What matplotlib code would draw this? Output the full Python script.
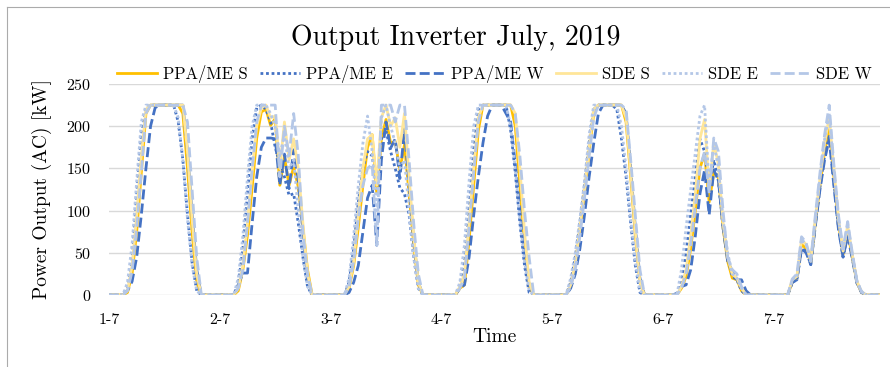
import matplotlib
matplotlib.use("Agg")
import matplotlib.pyplot as plt
from matplotlib.lines import Line2D
import numpy as np

plt.rcParams["font.family"] = "cmr10"
plt.rcParams["mathtext.fontset"] = "cm"
plt.rcParams["axes.formatter.use_mathtext"] = True

# hourly inverter output [kW], 1-7 00:00 .. 7-7 23:00 (one row per day)
PPA_S = [
    0, 0, 0, 0, 3, 25, 75, 145, 215, 225, 225, 225, 225, 225, 225, 225, 215, 150, 75, 15, 0, 0, 0, 0,
    0, 0, 0, 0, 5, 30, 71, 127, 186, 217, 220, 201, 209, 130, 164, 130, 152, 128, 80, 30, 0, 0, 0, 0,
    0, 0, 0, 0, 8, 35, 80, 130, 175, 190, 120, 185, 208, 180, 182, 148, 178, 120, 60, 12, 0, 0, 0, 0,
    0, 0, 0, 0, 8, 12, 65, 130, 195, 225, 225, 225, 225, 225, 225, 225, 200, 130, 60, 10, 0, 0, 0, 0,
    0, 0, 0, 0, 10, 35, 75, 120, 170, 215, 225, 225, 225, 225, 225, 225, 205, 140, 70, 15, 0, 0, 0, 0,
    0, 0, 0, 0, 8, 22, 55, 100, 150, 168, 110, 145, 140, 80, 40, 20, 18, 5, 0, 0, 0, 0, 0, 0,
    0, 0, 0, 0, 15, 20, 60, 55, 38, 85, 130, 170, 197, 140, 85, 48, 75, 45, 15, 3, 0, 0, 0, 0,
]
PPA_E = [
    0, 0, 0, 0, 8, 40, 120, 190, 222, 225, 225, 225, 225, 225, 225, 205, 160, 95, 38, 5, 0, 0, 0, 0,
    0, 0, 0, 0, 12, 55, 120, 185, 222, 225, 220, 205, 175, 155, 140, 118, 120, 85, 45, 10, 0, 0, 0, 0,
    0, 0, 0, 0, 15, 55, 110, 150, 170, 165, 130, 185, 195, 170, 150, 127, 120, 95, 45, 8, 0, 0, 0, 0,
    0, 0, 0, 0, 10, 40, 105, 175, 220, 225, 225, 225, 225, 225, 225, 195, 145, 85, 35, 3, 0, 0, 0, 0,
    0, 0, 0, 0, 15, 45, 85, 130, 180, 220, 225, 225, 225, 225, 220, 185, 140, 85, 35, 3, 0, 0, 0, 0,
    0, 0, 0, 0, 15, 50, 95, 140, 185, 170, 130, 160, 135, 80, 45, 22, 18, 5, 0, 0, 0, 0, 0, 0,
    0, 0, 0, 0, 15, 18, 55, 52, 36, 85, 128, 165, 188, 135, 80, 45, 72, 45, 15, 3, 0, 0, 0, 0,
]
PPA_W = [
    0, 0, 0, 0, 5, 16, 45, 95, 150, 200, 222, 225, 225, 225, 225, 225, 225, 170, 95, 30, 0, 0, 0, 0,
    0, 0, 0, 0, 12, 26, 26, 85, 140, 175, 186, 186, 185, 130, 167, 126, 172, 135, 75, 20, 0, 0, 0, 0,
    0, 0, 0, 0, 3, 15, 35, 75, 115, 130, 59, 160, 205, 174, 185, 138, 197, 130, 65, 15, 0, 0, 0, 0,
    0, 0, 0, 0, 8, 12, 45, 95, 140, 180, 212, 225, 225, 225, 215, 205, 155, 100, 50, 12, 0, 0, 0, 0,
    0, 0, 0, 0, 8, 25, 55, 95, 140, 180, 215, 225, 225, 225, 225, 225, 215, 150, 80, 20, 0, 0, 0, 0,
    0, 0, 0, 2, 10, 12, 30, 70, 120, 148, 95, 148, 136, 80, 40, 28, 18, 18, 5, 0, 0, 0, 0, 0,
    0, 0, 0, 0, 15, 18, 55, 50, 36, 82, 125, 160, 185, 130, 78, 45, 70, 43, 14, 3, 0, 0, 0, 0,
]
SDE_S = [
    0, 0, 0, 0, 5, 35, 95, 165, 220, 225, 225, 225, 225, 225, 225, 225, 225, 170, 90, 25, 0, 0, 0, 0,
    0, 0, 0, 0, 8, 35, 85, 145, 200, 222, 225, 210, 212, 150, 205, 160, 185, 150, 85, 25, 0, 0, 0, 0,
    0, 0, 0, 0, 10, 40, 95, 150, 185, 190, 130, 210, 225, 200, 210, 175, 215, 140, 70, 15, 0, 0, 0, 0,
    0, 0, 0, 0, 10, 25, 85, 150, 210, 225, 225, 225, 225, 225, 225, 225, 215, 150, 75, 15, 0, 0, 0, 0,
    0, 0, 0, 0, 12, 38, 80, 125, 175, 220, 225, 225, 225, 225, 225, 225, 210, 145, 75, 15, 0, 0, 0, 0,
    0, 0, 0, 0, 10, 30, 70, 120, 185, 208, 125, 180, 155, 85, 45, 25, 20, 8, 0, 0, 0, 0, 0, 0,
    0, 0, 0, 0, 18, 22, 65, 60, 40, 90, 138, 180, 210, 150, 90, 52, 82, 48, 16, 4, 0, 0, 0, 0,
]
SDE_E = [
    0, 0, 0, 0, 15, 60, 135, 205, 225, 225, 225, 225, 225, 225, 225, 210, 160, 90, 35, 5, 0, 0, 0, 0,
    0, 0, 0, 0, 20, 70, 140, 200, 225, 225, 225, 215, 200, 165, 190, 150, 160, 100, 45, 10, 0, 0, 0, 0,
    0, 0, 0, 0, 20, 70, 130, 180, 212, 170, 100, 210, 225, 200, 180, 150, 160, 100, 45, 8, 0, 0, 0, 0,
    0, 0, 0, 0, 15, 60, 135, 200, 225, 225, 225, 225, 225, 225, 225, 200, 150, 90, 40, 5, 0, 0, 0, 0,
    0, 0, 0, 0, 20, 50, 90, 135, 190, 225, 225, 225, 225, 225, 225, 200, 150, 90, 40, 5, 0, 0, 0, 0,
    0, 0, 0, 0, 30, 80, 125, 168, 212, 225, 128, 180, 150, 90, 50, 25, 20, 8, 0, 0, 0, 0, 0, 0,
    0, 0, 0, 0, 18, 22, 66, 60, 40, 90, 140, 185, 215, 150, 90, 52, 84, 48, 16, 4, 0, 0, 0, 0,
]
SDE_W = [
    0, 0, 0, 0, 5, 28, 80, 145, 215, 225, 225, 225, 225, 225, 225, 225, 225, 205, 125, 45, 0, 0, 0, 0,
    0, 0, 0, 0, 8, 30, 85, 150, 205, 225, 225, 225, 225, 140, 200, 165, 215, 165, 75, 25, 0, 0, 0, 0,
    0, 0, 0, 0, 10, 40, 90, 130, 150, 155, 59, 225, 225, 225, 205, 225, 225, 160, 85, 25, 0, 0, 0, 0,
    0, 0, 0, 0, 8, 20, 80, 145, 205, 225, 225, 225, 225, 225, 225, 225, 215, 165, 100, 45, 0, 0, 0, 0,
    0, 0, 0, 0, 10, 30, 70, 115, 165, 210, 225, 225, 225, 225, 225, 225, 220, 160, 95, 30, 0, 0, 0, 0,
    0, 0, 0, 0, 8, 25, 60, 105, 150, 170, 120, 186, 170, 100, 45, 30, 25, 10, 0, 0, 0, 0, 0, 0,
    0, 0, 0, 0, 19, 25, 69, 62, 41, 95, 145, 190, 225, 155, 95, 55, 87, 50, 17, 4, 0, 0, 0, 0,
]

DAY_LABELS = ["1-7", "2-7", "3-7", "4-7", "5-7", "6-7", "7-7"]
Y_TICKS = [0, 50, 100, 150, 200, 250]

# ── styles ───────────────────────────────────────────────────────────────
C_GOLD   = "#FFC000"
C_BLUE   = "#4472C4"
C_LGOLD  = "#FFE699"
C_LBLUE  = "#B4C7E7"
C_GRID   = "#D9D9D9"
LW = 2.0
DOT  = (0, (1, 1))
DASH = (0, (3.6, 1.5))

series = [
    ("PPA/ME S", PPA_S, C_GOLD,  "-"),
    ("PPA/ME E", PPA_E, C_BLUE,  DOT),
    ("PPA/ME W", PPA_W, C_BLUE,  DASH),
    ("SDE S",    SDE_S, C_LGOLD, "-"),
    ("SDE E",    SDE_E, C_LBLUE, DOT),
    ("SDE W",    SDE_W, C_LBLUE, DASH),
]

W, H = 890, 367
fig = plt.figure(figsize=(W / 100, H / 100), dpi=100)
ax = fig.add_axes([109 / W, 1 - 295 / H, (880 - 109) / W, (295 - 84) / H])

hours = np.arange(len(PPA_S))
for name, vals, col, ls in series:
    ax.plot(hours, vals, color=col, linestyle=ls, linewidth=LW, label=name,
            solid_joinstyle="round", dash_capstyle="butt")

ax.set_xlim(0, len(PPA_S) - 1)
ax.set_ylim(0, 250)
ax.set_yticks(Y_TICKS)
ax.set_xticks(np.arange(len(DAY_LABELS)) * 24)
ax.set_xticklabels(DAY_LABELS)
ax.tick_params(length=0, labelsize=11.5)
ax.tick_params(axis="y", pad=13)
ax.tick_params(axis="x", pad=13)
ax.grid(axis="y", color=C_GRID, linewidth=1)
ax.set_axisbelow(True)
for s in ax.spines.values():
    s.set_visible(False)

ax.set_xlabel("Time", fontsize=14, labelpad=1)
ax.set_ylabel("Power Output (AC) [kW]", fontsize=14, labelpad=10)

fig.text(455.5 / W, 1 - 38 / H, "Output Inverter July, 2019",
         fontsize=20, ha="center", va="center")

fig.legend(loc="center", bbox_to_anchor=(494.5 / W, 1 - 74 / H), ncol=6,
           frameon=False, fontsize=12, handlelength=2.4, handletextpad=0.35,
           columnspacing=0.75, borderaxespad=0)

# chart area border (left and top edges only are in the crop)
fig.add_artist(Line2D([7 / W, 7 / W], [0, 1 - 7 / H], color="#ABABAB", lw=0.8,
                      transform=fig.transFigure))
fig.add_artist(Line2D([7 / W, 1], [1 - 7 / H, 1 - 7 / H], color="#ABABAB", lw=0.8,
                      transform=fig.transFigure))

fig.savefig("out.png", dpi=100, facecolor="white")
